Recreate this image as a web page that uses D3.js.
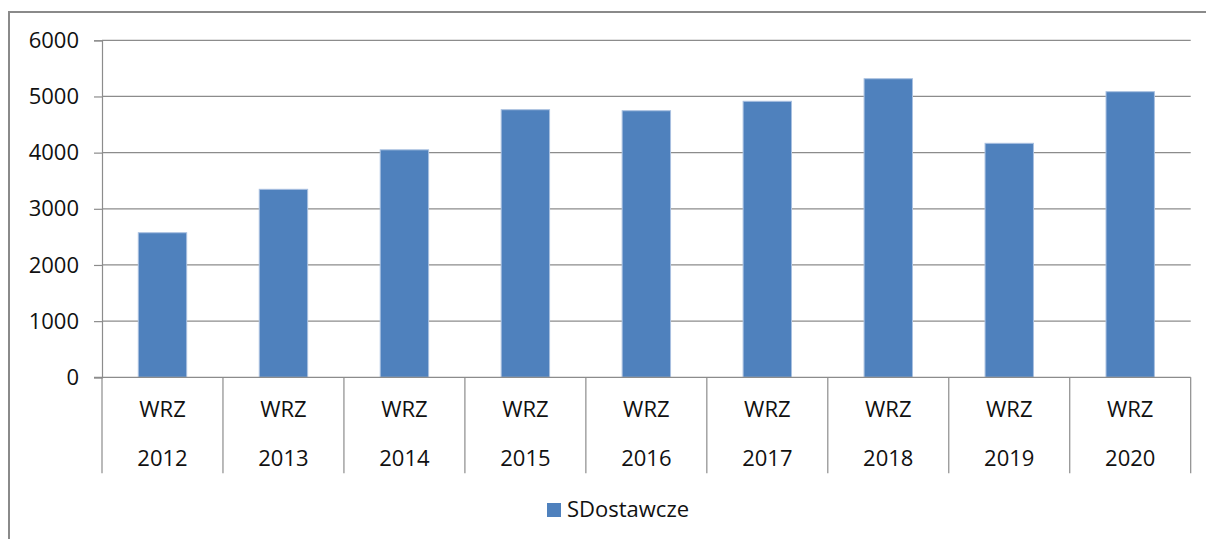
<!DOCTYPE html>
<html>
<head>
<meta charset="utf-8">
<script src="https://cdn.jsdelivr.net/npm/d3@7"></script>
<style>
  body { margin: 0; background: #fff; }
  svg { display: block; font-family: "Open Sans", sans-serif; }
</style>
</head>
<body>
<svg id="chart" width="1206" height="539"></svg>
<script>
// data
let months = ["WRZ", "WRZ", "WRZ", "WRZ", "WRZ", "WRZ", "WRZ", "WRZ", "WRZ"];
let years = ["2012", "2013", "2014", "2015", "2016", "2017", "2018", "2019", "2020"];
let values = [2574, 3347, 4050, 4764, 4746, 4914, 5316, 4166, 5085];
let yTicks = [0, 1000, 2000, 3000, 4000, 5000, 6000];
let seriesName = "SDostawcze";

let svg = d3.select("#chart");
let plot = {left: 102, right: 1190.7, top: 40.3, bottom: 377.3};
let barColor = "#4f81bd";
let lineColor = "#8c8c8c";
let textColor = "#111";
let fontSize = "22px";

// outer chart frame (right and bottom run past the window)
svg.append("rect")
    .attr("x", 9).attr("y", 12)
    .attr("width", 1220).attr("height", 560)
    .style("fill", "none")
    .style("stroke", "#8a8a8a")
    .style("stroke-width", 2);

let x = d3.scaleBand()
    .domain(d3.range(values.length))
    .range([plot.left, plot.right])
    .paddingInner(0.6)
    .paddingOuter(0.3);

let xCat = d3.scaleBand()
    .domain(d3.range(values.length))
    .range([plot.left, plot.right]);

let y = d3.scaleLinear()
    .domain([0, 6000])
    .range([plot.bottom, plot.top]);

// gridlines
svg.append("g")
    .selectAll("line")
    .data(yTicks.filter(d => d > 0))
    .enter().append("line")
    .attr("x1", plot.left).attr("x2", plot.right)
    .attr("y1", d => y(d)).attr("y2", d => y(d))
    .style("stroke", lineColor)
    .style("stroke-width", 1.2);

// y axis
let yAxis = svg.append("g")
    .attr("transform", "translate(" + plot.left + ",0)")
    .call(d3.axisLeft(y).tickValues(yTicks).tickSize(8).tickPadding(15).tickFormat(d3.format("d")));
yAxis.select(".domain").style("stroke", lineColor).style("stroke-width", 1.2);
yAxis.selectAll(".tick line").style("stroke", lineColor).style("stroke-width", 1.2);
yAxis.selectAll("text")
    .style("font-size", fontSize)
    .style("font-family", "'Open Sans', sans-serif")
    .style("fill", textColor);

// bars
svg.append("g")
    .selectAll("rect")
    .data(values)
    .enter().append("rect")
    .attr("x", (d, i) => x(i))
    .attr("y", d => y(d))
    .attr("width", x.bandwidth())
    .attr("height", d => y(0) - y(d))
    .style("fill", barColor)
    .style("stroke", "#a9c0e0")
    .style("stroke-width", 1);

// x axis baseline and category separators
svg.append("line")
    .attr("x1", plot.left - 8).attr("x2", plot.right)
    .attr("y1", y(0)).attr("y2", y(0))
    .style("stroke", lineColor)
    .style("stroke-width", 1.2);

let seps = d3.range(values.length + 1).map(i => i < values.length ? xCat(i) : plot.right);
svg.append("g")
    .selectAll("line")
    .data(seps)
    .enter().append("line")
    .attr("x1", d => d).attr("x2", d => d)
    .attr("y1", y(0)).attr("y2", 473.3)
    .style("stroke", lineColor)
    .style("stroke-width", 1.2);

let labels = svg.append("g")
    .style("font-size", fontSize)
    .style("fill", textColor)
    .attr("text-anchor", "middle");

labels.selectAll(".month")
    .data(months)
    .enter().append("text")
    .attr("class", "month")
    .attr("x", (d, i) => xCat(i) + xCat.bandwidth() / 2)
    .attr("y", 417)
    .text(d => d);

labels.selectAll(".year")
    .data(years)
    .enter().append("text")
    .attr("class", "year")
    .attr("x", (d, i) => xCat(i) + xCat.bandwidth() / 2)
    .attr("y", 466)
    .text(d => d);

// legend
let legend = svg.append("g").attr("transform", "translate(547,503)");
legend.append("rect")
    .attr("width", 14).attr("height", 14)
    .style("fill", barColor);
legend.append("text")
    .attr("x", 20).attr("y", 14)
    .style("font-size", fontSize)
    .style("fill", textColor)
    .text(seriesName);
</script>
</body>
</html>
